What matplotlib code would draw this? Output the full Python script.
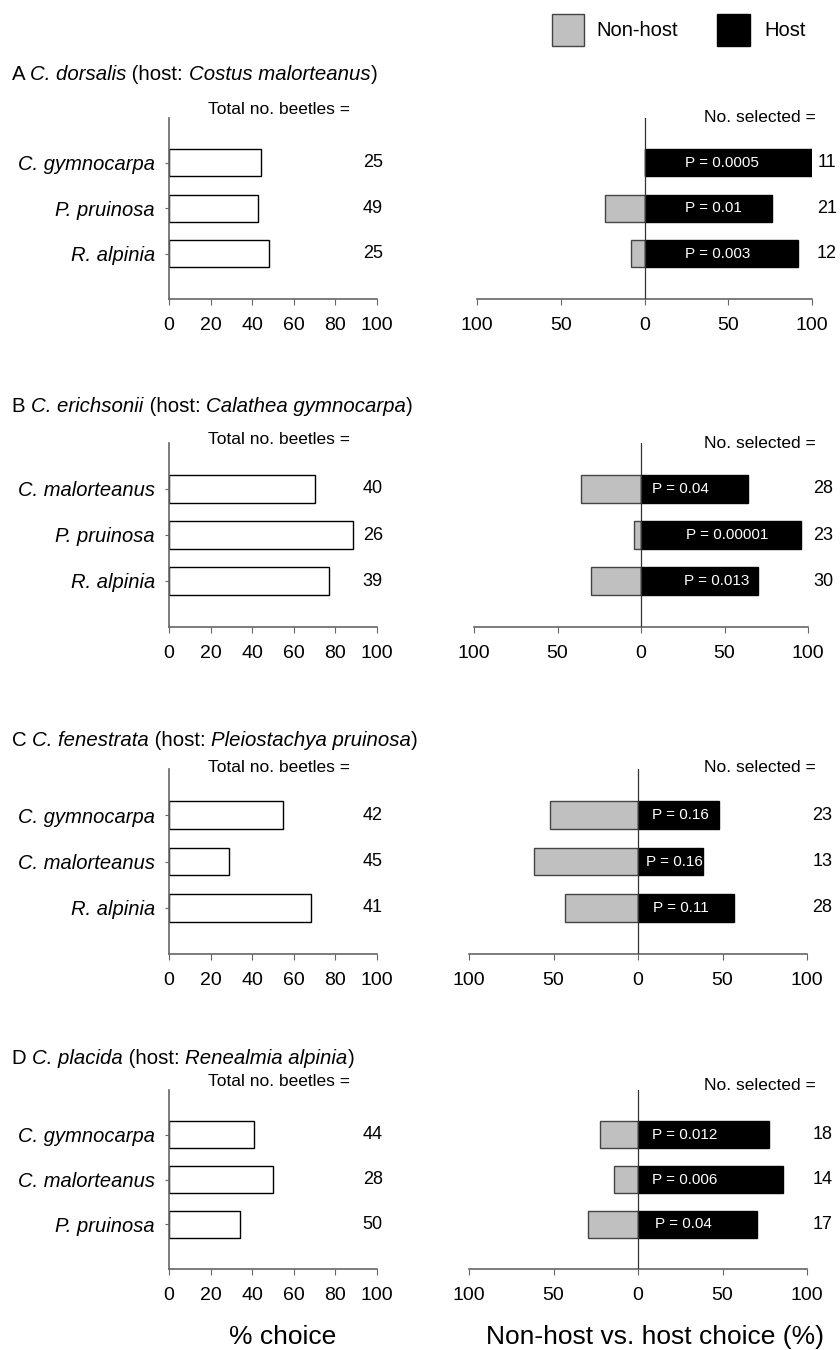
import matplotlib
matplotlib.use("Agg")
import matplotlib.pyplot as plt
from matplotlib.patches import Rectangle

plt.rcParams['font.family'] = ['Liberation Sans', 'DejaVu Sans']

W, H = 840, 1350

# ---- data ----
beetles = ["C. dorsalis", "C. erichsonii", "C. fenestrata", "C. placida"]
hosts = ["Costus malorteanus", "Calathea gymnocarpa", "Pleiostachya pruinosa", "Renealmia alpinia"]
letters = ["A", "B", "C", "D"]

plants_A = ["C. gymnocarpa", "P. pruinosa", "R. alpinia"]
plants_B = ["C. malorteanus", "P. pruinosa", "R. alpinia"]
plants_C = ["C. gymnocarpa", "C. malorteanus", "R. alpinia"]
plants_D = ["C. gymnocarpa", "C. malorteanus", "P. pruinosa"]

choice_A = [44, 42.9, 48]
choice_B = [70, 88.5, 76.9]
choice_C = [54.8, 28.9, 68.3]
choice_D = [40.9, 50, 34]

total_A = [25, 49, 25]
total_B = [40, 26, 39]
total_C = [42, 45, 41]
total_D = [44, 28, 50]

nonhost_A = [0, 23.8, 8.3]
nonhost_B = [35.7, 4.3, 30]
nonhost_C = [52.2, 61.5, 42.9]
nonhost_D = [22.2, 14.3, 29.4]

host_A = [100, 76.2, 91.7]
host_B = [64.3, 95.7, 70]
host_C = [47.8, 38.5, 57.1]
host_D = [77.8, 85.7, 70.6]

selected_A = [11, 21, 12]
selected_B = [28, 23, 30]
selected_C = [23, 13, 28]
selected_D = [18, 14, 17]

pval_A = ["0.0005", "0.01", "0.003"]
pval_B = ["0.04", "0.00001", "0.013"]
pval_C = ["0.16", "0.16", "0.11"]
pval_D = ["0.012", "0.006", "0.04"]

panels = [
    (plants_A, choice_A, total_A, nonhost_A, host_A, selected_A, pval_A),
    (plants_B, choice_B, total_B, nonhost_B, host_B, selected_B, pval_B),
    (plants_C, choice_C, total_C, nonhost_C, host_C, selected_C, pval_C),
    (plants_D, choice_D, total_D, nonhost_D, host_D, selected_D, pval_D),
]

# ---- layout (pixels from top-left) ----
ax_top = [117.5, 443, 769, 1090]
ax_bot = [299, 627, 954, 1269]
right_x = [(477, 812), (474, 808), (469, 807), (469, 807)]
title_y = [75, 407, 741, 1058]
total_y = [109, 440, 768, 1082]
nsel_y = [117, 444, 768, 1085]
p_start = [[24, 24, 24], [6.6, 27, 26], [8.3, 4.7, 9], [8.3, 8.3, 10]]

SPINE = "#666666"

fig = plt.figure(figsize=(W / 100, H / 100), dpi=100)
renderer = fig.canvas.get_renderer()


def px_axes(x0, x1, ytop, ybot):
    return fig.add_axes([x0 / W, 1 - ybot / H, (x1 - x0) / W, (ybot - ytop) / H])


def mixed_text(x, y, pieces, size):
    # write text pieces one after another (regular / italic)
    xf = x / W
    for s, style in pieces:
        t = fig.text(xf, 1 - y / H, s, fontsize=size, style=style, va="center", ha="left")
        bb = t.get_window_extent(renderer)
        xf += bb.width / W


for i, (plants, choice, total, nonhost, host, selected, pvals) in enumerate(panels):
    ypos = [3, 2, 1]

    # title
    mixed_text(12, title_y[i], [(letters[i] + " ", "normal"), (beetles[i], "italic"),
                                (" (host: ", "normal"), (hosts[i], "italic"), (")", "normal")], 14.7)
    fig.text(208 / W, 1 - total_y[i] / H, "Total no. beetles =", fontsize=12.5, va="center", ha="left")
    fig.text(816 / W, 1 - nsel_y[i] / H, "No. selected =", fontsize=12.5, va="center", ha="right")

    # left: % choice
    ax = px_axes(169, 377, ax_top[i], ax_bot[i])
    ax.barh(ypos, choice, height=0.6, color="white", edgecolor="black", linewidth=1)
    ax.set_xlim(0, 100)
    ax.set_ylim(0, 4)
    ax.set_xticks([0, 20, 40, 60, 80, 100])
    ax.set_yticks(ypos)
    ax.set_yticklabels(plants, style="italic", fontsize=14.5)
    ax.tick_params(axis="x", labelsize=14, length=4, color=SPINE, pad=9)
    ax.tick_params(axis="y", length=3, color=SPINE, pad=7)
    for s in ["top", "right"]:
        ax.spines[s].set_visible(False)
    for s in ["left", "bottom"]:
        ax.spines[s].set_color(SPINE)
        ax.spines[s].set_linewidth(1.2)
    for yy, n in zip(ypos, total):
        ax.text(98, yy, str(n), fontsize=13, ha="center", va="center")

    # right: non-host vs host
    x0, x1 = right_x[i]
    ax2 = px_axes(x0, x1, ax_top[i], ax_bot[i])
    ax2.barh(ypos, [-v for v in nonhost], height=0.6, color="#c0c0c0", edgecolor="#444444", linewidth=1)
    ax2.barh(ypos, host, height=0.6, color="black", edgecolor="black", linewidth=1)
    ax2.axvline(0, color="#333333", linewidth=0.9, zorder=3)
    ax2.set_xlim(-100, 100)
    ax2.set_ylim(0, 4)
    ax2.set_xticks([-100, -50, 0, 50, 100])
    ax2.set_xticklabels(["100", "50", "0", "50", "100"])
    ax2.set_yticks([])
    ax2.tick_params(axis="x", labelsize=14, length=4, color=SPINE, pad=9)
    for s in ["top", "right", "left"]:
        ax2.spines[s].set_visible(False)
    ax2.spines["bottom"].set_color(SPINE)
    ax2.spines["bottom"].set_linewidth(1.2)
    for yy, p, px in zip(ypos, pvals, p_start[i]):
        ax2.text(px, yy, "P = " + p, color="white", fontsize=11, ha="left", va="center", zorder=4)
    for yy, n in zip(ypos, selected):
        ax2.text(1.045, yy, str(n), fontsize=13, ha="center", va="center",
                 transform=ax2.get_yaxis_transform())

# legend at the top
fig.add_artist(Rectangle((552 / W, 1 - 45.5 / H), 31.5 / W, 32 / H, facecolor="#c0c0c0",
                         edgecolor="#444444", linewidth=1, transform=fig.transFigure))
fig.text(596 / W, 1 - 31 / H, "Non-host", fontsize=14.5, va="center", ha="left")
fig.add_artist(Rectangle((717 / W, 1 - 45.5 / H), 33 / W, 32 / H, facecolor="black",
                         edgecolor="black", linewidth=1, transform=fig.transFigure))
fig.text(764 / W, 1 - 31 / H, "Host", fontsize=14.5, va="center", ha="left")

# axis titles at the bottom
fig.text(283 / W, 1 - 1337 / H, "% choice", fontsize=19, ha="center", va="center")
fig.text(655 / W, 1 - 1337 / H, "Non-host vs. host choice (%)", fontsize=19, ha="center", va="center")

fig.savefig("out.png", dpi=100)
